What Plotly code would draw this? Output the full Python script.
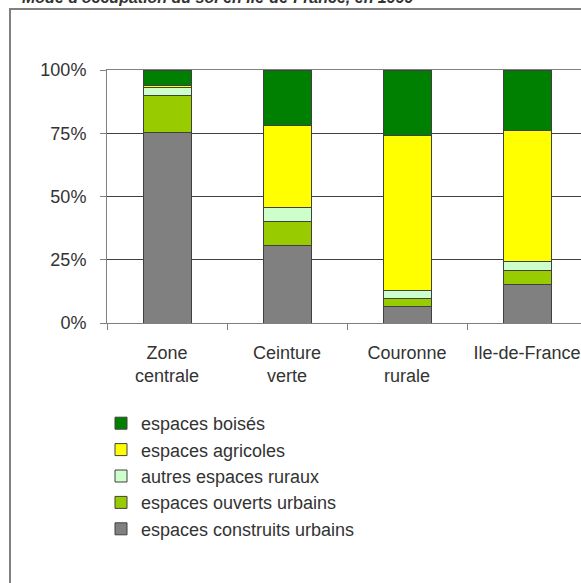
import plotly.graph_objects as go

# Land-use shares (% of area) by zone, Ile-de-France, 1999
zones = ["Zone<br>centrale", "Ceinture<br>verte", "Couronne<br>rurale", "Ile-de-France"]

construits_urbains = [75.2, 30.7, 6.5, 15.3]
ouverts_urbains = [14.7, 9.5, 3.3, 5.4]
autres_ruraux = [3.0, 5.3, 3.1, 3.6]
agricoles = [0.8, 32.6, 61.2, 51.7]
boises = [6.3, 21.9, 25.9, 24.0]

y_ticks = [0, 25, 50, 75, 100]
y_tick_labels = ["0%", "25%", "50%", "75%", "100%"]

series = [
    ("espaces construits urbains", construits_urbains, "#808080"),
    ("espaces ouverts urbains", ouverts_urbains, "#99CC00"),
    ("autres espaces ruraux", autres_ruraux, "#CCFFCC"),
    ("espaces agricoles", agricoles, "#FFFF00"),
    ("espaces boisés", boises, "#008000"),
]

FONT = "Liberation Sans, Arial, sans-serif"
W, H = 581, 583
ML, MR, MT, MB = 107, 0, 70, 260
plot_w = W - ML - MR
plot_h = H - MT - MB
slot_px = 120  # width of one category slot


def px_x(px):
    return (px - ML) / plot_w


def px_y(px):
    return (H - MB - px) / plot_h


fig = go.Figure()
for name, vals, color in series:
    fig.add_trace(go.Bar(
        x=zones, y=vals, name=name,
        marker=dict(color=color, line=dict(color="#404040", width=1)),
        width=0.4,
    ))

fig.update_layout(
    width=W, height=H,
    margin=dict(l=ML, r=MR, t=MT, b=MB, autoexpand=False),
    barmode="stack",
    paper_bgcolor="white",
    plot_bgcolor="white",
    font=dict(family=FONT, size=18, color="#333333"),
    showlegend=True,
    legend=dict(
        traceorder="reversed",
        x=px_x(101), y=px_y(405), xanchor="left", yanchor="top",
        font=dict(family=FONT, size=18, color="#333333"),
        bgcolor="rgba(0,0,0,0)",
        itemwidth=30,
    ),
    xaxis=dict(
        range=[-0.5, -0.5 + plot_w / slot_px],
        showgrid=False,
        showline=True, linecolor="#808080", linewidth=1, mirror=True,
        ticks="outside", tickson="boundaries", ticklen=6, tickcolor="#808080",
        tickangle=0, automargin=False,
        tickfont=dict(family=FONT, size=18, color="#333333"),
        ticklabelstandoff=13,
        fixedrange=True,
    ),
    yaxis=dict(
        range=[0, 100],
        tickvals=y_ticks, ticktext=y_tick_labels,
        showgrid=True, gridcolor="#404040", gridwidth=1,
        showline=True, linecolor="#808080", linewidth=1,
        ticks="outside", ticklen=6, tickcolor="#808080",
        ticklabelstandoff=10, automargin=False,
        zeroline=False,
        fixedrange=True,
    ),
    shapes=[
        dict(type="rect", xref="paper", yref="paper",
             x0=px_x(10), x1=px_x(W + 20), y0=px_y(9), y1=px_y(H + 20),
             line=dict(color="#808080", width=2), fillcolor="rgba(0,0,0,0)",
             layer="below"),
    ],
    annotations=[
        dict(text="<b><i>Mode d'occupation du sol en Ile-de-France, en 1999</i></b>",
             xref="paper", yref="paper", x=px_x(20), y=px_y(8),
             xanchor="left", yanchor="bottom", showarrow=False,
             font=dict(family=FONT, size=16, color="#333333")),
    ],
)

fig.write_html("out.html")
